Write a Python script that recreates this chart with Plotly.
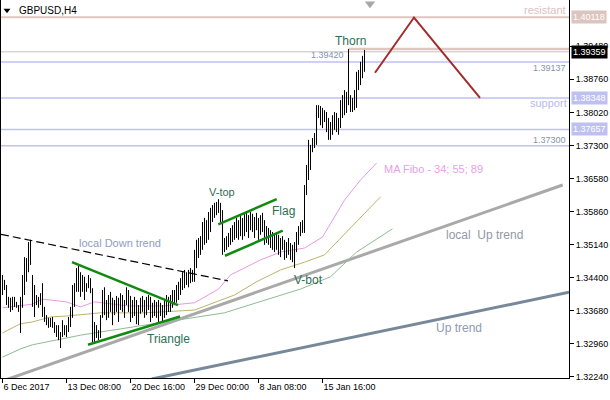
import plotly.graph_objects as go

# ---------------- data ----------------
highs = [
1.3447,1.3436,1.3425,1.3399,1.3397,1.3399,1.3399,1.3388,1.3381,1.3399,
1.3447,1.3486,1.3484,1.3519,1.3524,1.3447,1.3425,1.3403,1.3399,1.3407,
1.3429,1.3377,1.3359,1.3353,1.3353,1.3355,1.3344,1.3337,1.3337,1.3322,
1.3348,1.3337,1.3337,1.3355,1.3377,1.3425,1.3429,1.3462,1.3469,1.3453,
1.3447,1.3443,1.3429,1.3447,1.3440,1.3418,1.3344,1.3337,1.3326,1.3359,
1.3414,1.3420,1.3392,1.3403,1.3410,1.3397,1.3392,1.3401,1.3397,1.3407,
1.3403,1.3392,1.3420,1.3414,1.3401,1.3392,1.3399,1.3392,1.3381,1.3397,
1.3401,1.3392,1.3399,1.3403,1.3399,1.3386,1.3392,1.3388,1.3392,1.3386,
1.3381,1.3392,1.3403,1.3399,1.3403,1.3414,1.3414,1.3425,1.3432,1.3440,
1.3453,1.3458,1.3453,1.3458,1.3462,1.3458,1.3502,1.3524,1.3528,1.3532,
1.3563,1.3572,1.3567,1.3585,1.3594,1.3600,1.3605,1.3607,1.3613,1.3605,
1.3589,1.3528,1.3532,1.3539,1.3550,1.3556,1.3563,1.3572,1.3567,1.3576,
1.3572,1.3581,1.3583,1.3578,1.3585,1.3581,1.3574,1.3583,1.3572,1.3578,
1.3583,1.3567,1.3554,1.3550,1.3545,1.3541,1.3535,1.3541,1.3535,1.3528,
1.3532,1.3524,1.3519,1.3528,1.3517,1.3513,1.3519,1.3541,1.3554,1.3563,
1.3567,1.3644,1.3688,1.3743,1.3732,1.3747,1.3758,1.3819,1.3819,1.3817,
1.3813,1.3808,1.3804,1.3791,1.3782,1.3797,1.3804,1.3802,1.3791,1.3830,
1.3841,1.3852,1.3848,1.3942,1.3841,1.3835,1.3852,1.3892,1.3896,1.3914,
1.3927,1.3940]

lows = [
1.3403,1.3414,1.3381,1.3375,1.3366,1.3370,1.3377,1.3375,1.3366,1.3320,
1.3375,1.3403,1.3432,1.3453,1.3469,1.3377,1.3355,1.3381,1.3375,1.3381,
1.3355,1.3344,1.3337,1.3331,1.3333,1.3331,1.3320,1.3311,1.3304,1.3287,
1.3311,1.3315,1.3311,1.3322,1.3333,1.3353,1.3377,1.3410,1.3410,1.3399,
1.3410,1.3392,1.3410,1.3418,1.3407,1.3298,1.3298,1.3309,1.3304,1.3309,
1.3353,1.3359,1.3348,1.3353,1.3366,1.3337,1.3359,1.3366,1.3344,1.3370,
1.3366,1.3353,1.3381,1.3366,1.3344,1.3353,1.3357,1.3339,1.3337,1.3362,
1.3366,1.3353,1.3359,1.3370,1.3344,1.3353,1.3357,1.3353,1.3342,1.3357,
1.3344,1.3353,1.3359,1.3366,1.3366,1.3375,1.3381,1.3386,1.3392,1.3403,
1.3414,1.3418,1.3425,1.3420,1.3429,1.3432,1.3432,1.3462,1.3484,1.3491,
1.3502,1.3513,1.3517,1.3524,1.3541,1.3563,1.3572,1.3578,1.3583,1.3563,
1.3491,1.3497,1.3502,1.3508,1.3513,1.3519,1.3524,1.3528,1.3524,1.3532,
1.3524,1.3532,1.3541,1.3528,1.3545,1.3541,1.3528,1.3545,1.3524,1.3535,
1.3541,1.3513,1.3517,1.3513,1.3506,1.3502,1.3497,1.3502,1.3491,1.3486,
1.3502,1.3480,1.3484,1.3491,1.3480,1.3475,1.3462,1.3497,1.3513,1.3532,
1.3539,1.3539,1.3622,1.3655,1.3677,1.3716,1.3725,1.3732,1.3791,1.3775,
1.3769,1.3782,1.3760,1.3743,1.3743,1.3754,1.3765,1.3760,1.3754,1.3769,
1.3791,1.3797,1.3802,1.3819,1.3804,1.3804,1.3808,1.3813,1.3852,1.3863,
1.3878,1.3892]

# moving averages (bar index, price)
ma34_idx = [0,15,20,32,39,46,63,80,96,108,114,129,139,151,160,171,179,187]
ma34 = [1.3375,1.3383,1.3394,1.3388,1.3377,1.3388,1.3379,1.3379,1.3386,1.3416,
        1.3447,1.3480,1.3497,1.3506,1.3530,1.3611,1.3655,1.3692]
ma55_idx = [0,9,15,24,32,49,71,96,108,116,127,139,151,161,172,181,189]
ma55 = [1.3320,1.3340,1.3344,1.3355,1.3357,1.3364,1.3364,1.3370,1.3390,1.3403,
        1.3432,1.3458,1.3475,1.3491,1.3541,1.3583,1.3618]
ma89_idx = [0,9,15,24,39,49,71,96,111,127,149,164,177,195]
ma89 = [1.3267,1.3285,1.3294,1.3302,1.3315,1.3322,1.3337,1.3353,1.3364,1.3386,
        1.3416,1.3443,1.3497,1.3548]

x_tick_idx = [0, 32, 64, 96, 128, 160]
x_tick_text = ["6 Dec 2017", "13 Dec 08:00", "20 Dec 16:00", "29 Dec 00:00",
               "8 Jan 08:00", "15 Jan 16:00"]
y_tick_text = ["1.32240", "1.32960", "1.33680", "1.34400", "1.35140", "1.35860",
               "1.36580", "1.37300", "1.38020", "1.38760", "1.39480"]

resistance = 1.40118
bid = 1.39359
blue_levels = [1.39137, 1.38348, 1.37657, 1.37300]

assert len(highs) == len(lows)

# ---------------- figure ----------------
FONT = "Liberation Sans, Arial, sans-serif"
fig = go.Figure()

# horizontal levels
fig.add_shape(type="line", xref="paper", x0=0, x1=1, y0=resistance, y1=resistance,
              line=dict(color="#dfc6c1", width=2), layer="below")
for lv in blue_levels:
    fig.add_shape(type="line", xref="paper", x0=0, x1=1, y0=lv, y1=lv,
                  line=dict(color="#bfc0f6", width=1.6), layer="below")
fig.add_shape(type="line", xref="paper", x0=0, x1=1, y0=bid, y1=bid,
              line=dict(color="#c4c4c4", width=1), layer="below")
fig.add_shape(type="line", x0=173, x1=283.25, y0=1.3942, y1=1.3942,
              line=dict(color="#dfc6c1", width=2.5), layer="below")

def seg(xs, ys, color, width, dash=None):
    fig.add_trace(go.Scatter(x=xs, y=ys, mode="lines", hoverinfo="skip",
                             line=dict(color=color, width=width, dash=dash)))

# trend lines
seg([-0.75, 280.1], [1.32135, 1.3644], "#a9a9a9", 3)
seg([74.6, 283.25], [1.3219, 1.3409], "#778899", 3)

# moving averages
seg(ma89_idx, ma89, "#8fbc8f", 1)
seg(ma55_idx, ma55, "#bdb36b", 1)
seg(ma34_idx, ma34, "#e79ae6", 1)

# dashed local down trend
seg([-0.75, 112.75], [1.3536, 1.3434], "#000000", 1.2, "8px,4px")

# bars (high-low)
bx, by = [], []
for i, (h, l) in enumerate(zip(highs, lows)):
    bx += [i, i, None]
    by += [l, h, None]
fig.add_trace(go.Scatter(x=bx, y=by, mode="lines", hoverinfo="skip",
                         line=dict(color="#000000", width=1)))

# pattern lines
green = "#108a10"
seg([34.75, 87.75], [1.3475, 1.3381], green, 2.5)
seg([42.75, 88.75], [1.3294, 1.3356], green, 2.5)
seg([107.9, 137.1], [1.3558, 1.3613], green, 2.5)
seg([111.25, 140.1], [1.3489, 1.3544], green, 2.5)

# projected zigzag
seg([186.25, 205.75, 238.75], [1.3890, 1.4011, 1.3835], "#a52a2a", 2)

# markers: title triangle and shift triangle
fig.add_trace(go.Scatter(x=[2.25], y=[1.4027], mode="markers", hoverinfo="skip",
                         marker=dict(symbol="triangle-down", size=6, color="#000000"),
                         cliponaxis=False))
fig.add_trace(go.Scatter(x=[183.75], y=[1.4041], mode="markers", hoverinfo="skip",
                         marker=dict(symbol="triangle-down", size=9, color="#a8a8a8"),
                         cliponaxis=False))

def txt(x, y, s, color, size, anchor="center"):
    fig.add_annotation(x=x, y=y, text=s, showarrow=False, xanchor=anchor,
                       yanchor="middle", font=dict(family=FONT, size=size, color=color))

lab = "#2f6e55"
txt(7.25, 1.4027, "GBPUSD,H4", "#000000", 10, "left")
txt(173.75, 1.3960, "Thorn", lab, 12)
txt(171.75, 1.3929, "1.39420", "#8494a8", 9, "right")
txt(109.75, 1.3629, "V-top", lab, 11)
txt(140.5, 1.3587, "Flag", lab, 12)
txt(152.75, 1.3436, "V-bot", lab, 12)
txt(83.0, 1.3307, "Triangle", lab, 12)
txt(58.75, 1.3516, "local Down trend", "#8e9ebe", 11)
txt(241, 1.3535, "local  Up trend", "#9098a8", 12)
txt(228, 1.3331, "Up trend", "#8e9ab0", 12)
txt(215.25, 1.3679, "MA Fibo - 34; 55; 89", "#e8a0e6", 11)
txt(282.75, 1.4027, "resistant", "#dcc2bd", 11, "right")
txt(283.0, 1.3824, "support", "#b8b9f0", 11, "right")
txt(282.75, 1.3901, "1.39137", "#8494a8", 9, "right")
txt(282.75, 1.3743, "1.37300", "#8494a8", 9, "right")

def axbox(y, s, bg):
    fig.add_annotation(xref="paper", x=1, xanchor="left", xshift=2, y=y, yanchor="middle",
                       text=s, showarrow=False, bgcolor=bg, borderpad=1,
                       font=dict(family=FONT, size=9, color="#ffffff"))

axbox(resistance, "1.40118", "#dcc4bf")
axbox(1.38348, "1.38348", "#bfc0f2")
axbox(1.37657, "1.37657", "#bfc0f2")
axbox(bid, "1.39359", "#000000")

fig.update_layout(
    width=610, height=400,
    margin=dict(l=1, r=41, t=0, b=22),
    paper_bgcolor="#ffffff", plot_bgcolor="#ffffff",
    showlegend=False,
    hovermode=False,
    font=dict(family=FONT, size=9, color="#000000"),
    xaxis=dict(range=[-0.75, 283.25], showgrid=False, zeroline=False,
               showline=True, linecolor="#000000", linewidth=1, mirror=True,
               ticks="outside", ticklen=4, tickcolor="#000000",
               tickvals=x_tick_idx, ticktext=x_tick_text, tickangle=0,
               automargin=False,
               ticklabelposition="outside right",
               tickfont=dict(family=FONT, size=9, color="#000000")),
    yaxis=dict(range=[1.32212, 1.40494], side="right", showgrid=False, zeroline=False,
               showline=True, linecolor="#000000", linewidth=1, mirror=True,
               ticks="outside", ticklen=4, tickcolor="#000000", automargin=False,
               tickvals=[1.3224 + k * 0.00724 for k in range(11)],
               ticktext=y_tick_text,
               tickfont=dict(family=FONT, size=9, color="#000000")),
)

fig.write_html("out.html",
               config={"displayModeBar": False, "staticPlot": True},
               post_script="document.body.style.margin='0';document.body.style.overflow='hidden';")
